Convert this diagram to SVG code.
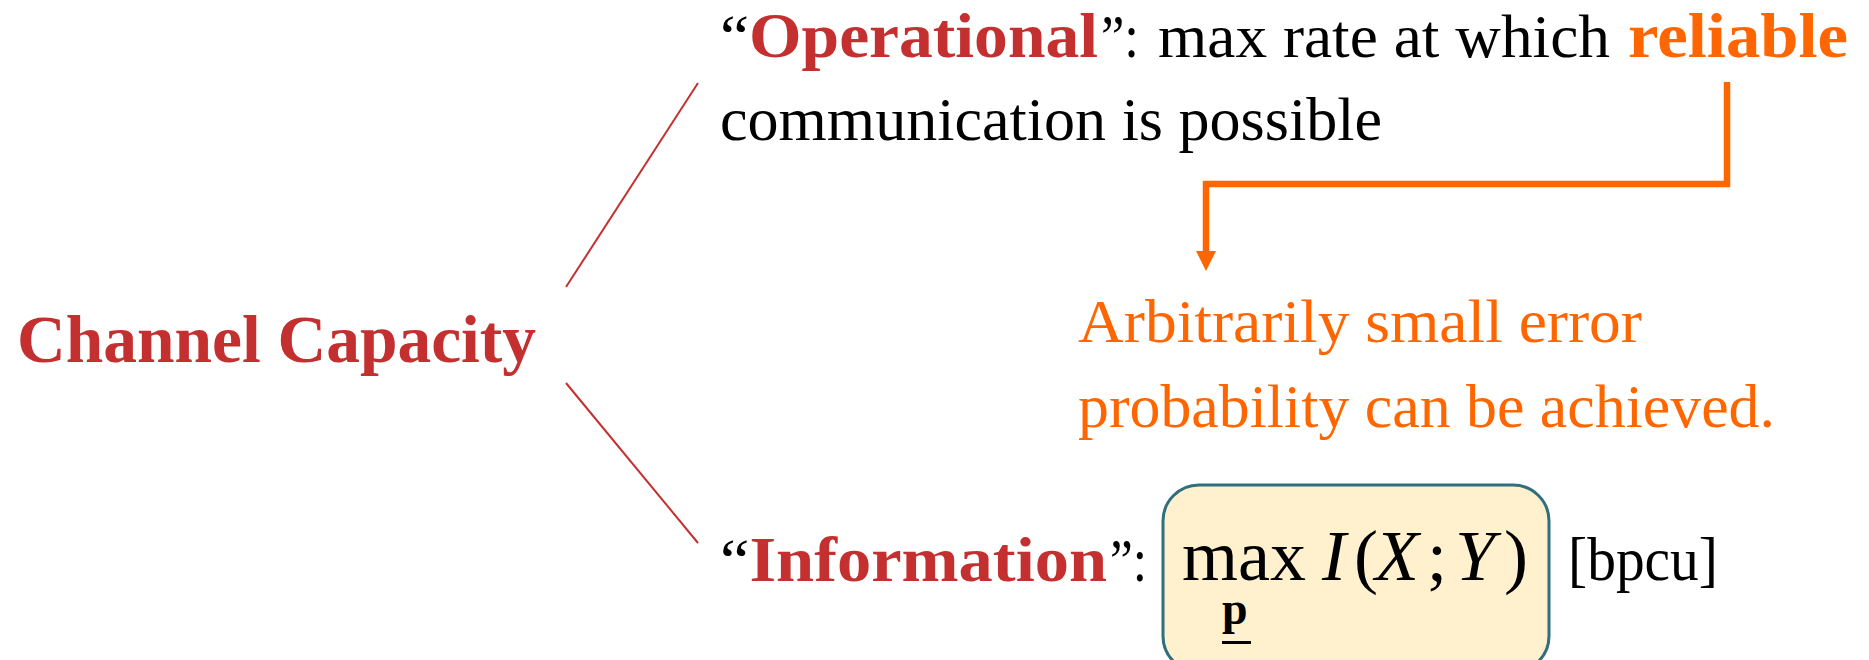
<svg xmlns="http://www.w3.org/2000/svg" width="1869" height="660" viewBox="0 0 1869 660">
  <defs>
    <style>
      .serif { font-family: "Liberation Serif", "Times New Roman", serif; }
      .title { font-weight: bold; fill: #C3302F; }
      .body { fill: #000000; font-size: 62px; }
      .hot { fill: #FF6600; }
      .branch { stroke: #C3302F; stroke-width: 2; fill: none; }
      .flow { stroke: #FF6600; stroke-width: 6.5; fill: none; stroke-linejoin: miter; }
      .formula { fill: #FFF0CE; stroke: #2F6F7E; stroke-width: 3; }
      .math { font-family: "Liberation Serif", "Times New Roman", serif; font-size: 72px; fill: #000000; }
    </style>
  </defs>
  <rect width="1869" height="660" fill="#FFFFFF"/>

  <!-- connectors -->
  <g id="connectors">
    <line class="branch" x1="566" y1="287" x2="698" y2="83"/>
    <line class="branch" x1="566" y1="383" x2="698" y2="543"/>
    <polyline class="flow" points="1727,82 1727,184 1206,184 1206,252"/>
    <polygon points="1196,251 1216,251 1206,271" fill="#FF6600"/>
  </g>

  <!-- root concept -->
  <g id="channel-capacity">
    <text class="serif title" x="17" y="362" font-size="68" textLength="519" lengthAdjust="spacingAndGlyphs">Channel Capacity</text>
  </g>

  <!-- operational definition -->
  <g id="operational" class="serif">
    <text class="body" x="720" y="57" textLength="378" lengthAdjust="spacingAndGlyphs">“<tspan class="title" font-size="64">Operational</tspan></text>
    <text class="body" x="1101" y="57" textLength="38" lengthAdjust="spacingAndGlyphs">”:</text>
    <text class="body" x="1158" y="57" textLength="452" lengthAdjust="spacingAndGlyphs">max rate at which</text>
    <text class="hot" x="1628" y="57" font-size="64" font-weight="bold" textLength="220" lengthAdjust="spacingAndGlyphs">reliable</text>
    <text class="body" x="720" y="140" textLength="662" lengthAdjust="spacingAndGlyphs">communication is possible</text>
  </g>

  <!-- note on reliability -->
  <g id="error-note" class="serif hot" font-size="62">
    <text x="1078" y="342" textLength="564" lengthAdjust="spacingAndGlyphs">Arbitrarily small error</text>
    <text x="1078" y="427" textLength="697" lengthAdjust="spacingAndGlyphs">probability can be achieved.</text>
  </g>

  <!-- information definition -->
  <g id="information" class="serif">
    <text class="body" x="720" y="581" textLength="387" lengthAdjust="spacingAndGlyphs">“<tspan class="title" font-size="64">Information</tspan></text>
    <text class="body" x="1110" y="581" textLength="37" lengthAdjust="spacingAndGlyphs">”:</text>
    <rect class="formula" x="1163" y="485" width="386" height="187" rx="36" ry="36"/>
    <text class="math" x="1182" y="580" textLength="124" lengthAdjust="spacingAndGlyphs">max</text>
    <text class="math" x="1322" y="580" font-style="italic">I</text>
    <text class="math" x="1354" y="580">(</text>
    <text class="math" x="1375" y="580" font-style="italic">X</text>
    <text class="math" x="1427" y="580">;</text>
    <text class="math" x="1455" y="580" font-style="italic">Y</text>
    <text class="math" x="1504" y="580">)</text>
    <text class="serif" x="1222" y="624" font-size="46" font-weight="bold" fill="#000000">p</text>
    <rect x="1222" y="641" width="29" height="3" fill="#000000"/>
    <text class="body" x="1568" y="580" font-size="60" textLength="150" lengthAdjust="spacingAndGlyphs">[bpcu]</text>
  </g>
</svg>
